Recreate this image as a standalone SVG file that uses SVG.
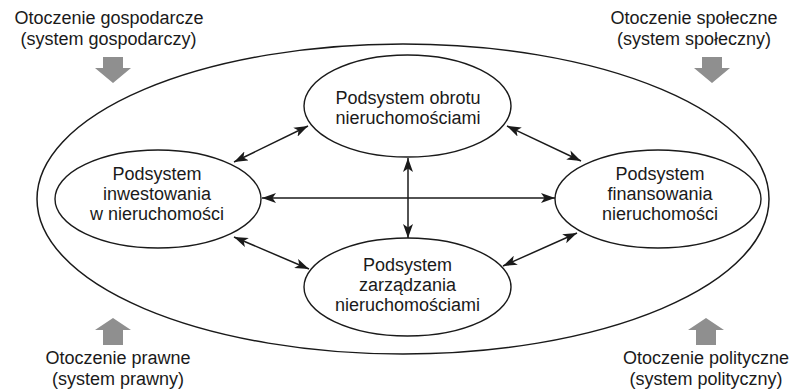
<svg xmlns="http://www.w3.org/2000/svg" width="794" height="389" viewBox="0 0 794 389">
<style>
text{font-family:"Liberation Sans",Arial,sans-serif;font-size:18px;fill:#1a1a1a;text-anchor:middle}
.node{fill:#fff;stroke:#1a1a1a;stroke-width:1.4}
.outer{fill:none;stroke:#1a1a1a;stroke-width:1.5}
.conn{stroke:#1a1a1a;stroke-width:1.5;fill:none;marker-start:url(#ah);marker-end:url(#ah)}
.env{fill:#8f8f8f}
</style>
<defs>
<marker id="ah" viewBox="0 0 14 10" refX="14" refY="5" markerWidth="14" markerHeight="10" markerUnits="userSpaceOnUse" orient="auto-start-reverse">
<path d="M0,0 L14,5 L0,10 L3.5,5 Z" fill="#1a1a1a"/>
</marker>
</defs>
<rect width="794" height="389" fill="#fff"/>
<g id="otoczenie">
<ellipse class="outer" cx="403" cy="199" rx="366" ry="155"/>
</g>
<g id="env-gospodarcze">
<text x="109" y="24">Otoczenie gospodarcze</text>
<text x="108.5" y="44.5">(system gospodarczy)</text>
<path class="env" d="M103,57 H123 V68 H131 L113,83 L95,68 H103 Z"/>
</g>
<g id="env-spoleczne">
<text x="694" y="24">Otoczenie społeczne</text>
<text x="694" y="44.5">(system społeczny)</text>
<path class="env" d="M702,57 H722 V68 H730 L712,83 L694,68 H702 Z"/>
</g>
<g id="env-prawne">
<path class="env" d="M103,345 H123 V330 H131 L113,318 L95,330 H103 Z"/>
<text x="118" y="364">Otoczenie prawne</text>
<text x="118" y="384.5">(system prawny)</text>
</g>
<g id="env-polityczne">
<path class="env" d="M696,345 H716 V330 H724 L706,318 L688,330 H696 Z"/>
<text x="706" y="364">Otoczenie polityczne</text>
<text x="706" y="384.5">(system polityczny)</text>
</g>
<g id="connectors">
<line class="conn" x1="234" y1="162" x2="308" y2="126"/>
<line class="conn" x1="507" y1="126" x2="581" y2="161"/>
<line class="conn" x1="234" y1="237" x2="309" y2="269"/>
<line class="conn" x1="503" y1="266" x2="577" y2="233"/>
<line class="conn" x1="262" y1="198" x2="555" y2="198"/>
<line class="conn" x1="408" y1="158" x2="408" y2="238"/>
</g>
<g id="obrot">
<ellipse class="node" cx="407.5" cy="106" rx="103.5" ry="51"/>
<text x="408" y="103.5">Podsystem obrotu</text>
<text x="408" y="124">nieruchomościami</text>
</g>
<g id="inwestowanie">
<ellipse class="node" cx="158" cy="199" rx="103" ry="49"/>
<text x="157" y="180">Podsystem</text>
<text x="157" y="200">inwestowania</text>
<text x="157" y="220">w nieruchomości</text>
</g>
<g id="finansowanie">
<ellipse class="node" cx="658" cy="199" rx="103" ry="49"/>
<text x="660" y="180">Podsystem</text>
<text x="660" y="200">finansowania</text>
<text x="660" y="220">nieruchomości</text>
</g>
<g id="zarzadzanie">
<ellipse class="node" cx="407.5" cy="287" rx="103.5" ry="49"/>
<text x="407.5" y="271">Podsystem</text>
<text x="407.5" y="291">zarządzania</text>
<text x="407.5" y="311">nieruchomościami</text>
</g>
</svg>
